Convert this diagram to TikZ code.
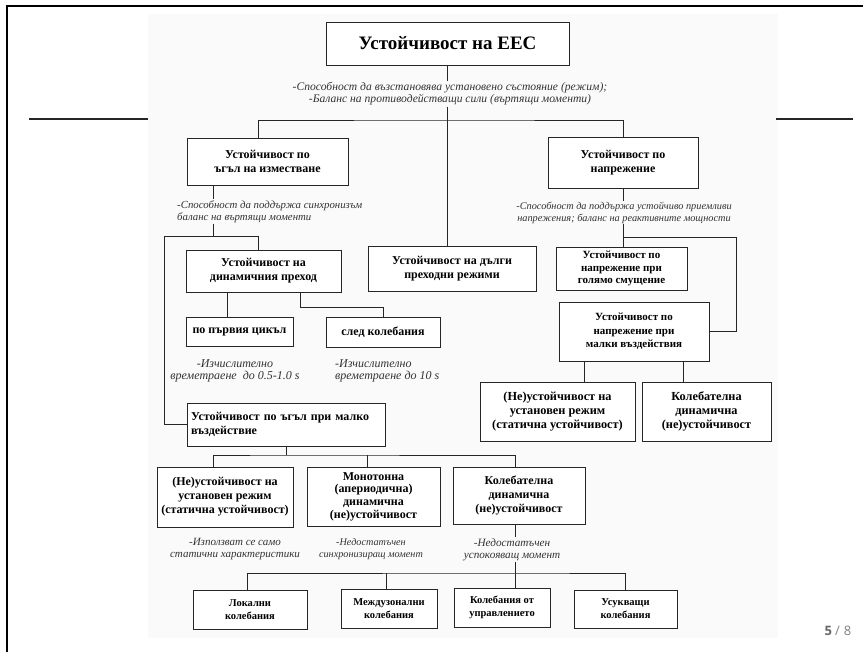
\documentclass[tikz,border=0pt]{standalone}
\usepackage{fontspec}
\setmainfont{Liberation Serif}
\newfontfamily\pagefont{Open Sans}
\begin{document}
\begin{tikzpicture}[x=1pt,y=-1pt,
  box/.style={draw=black!85, line width=0.9pt, fill=white, align=center, inner sep=1pt,
    font=\bfseries\fontsize{12}{14}\selectfont},
  sz/.style 2 args={minimum width=#1, minimum height=#2},
  note/.style={align=center, inner sep=1pt, font=\itshape\fontsize{11}{12}\selectfont, text=black!80},
  nsize/.style={font=\itshape\fontsize{#1}{12}\selectfont},
  conn/.style={draw=black!85, line width=0.8pt},
  rule/.style={line width=1.6pt, draw=black!85}]
\useasboundingbox (0,0) rectangle (863,652);
\fill[black!2] (148,14) rectangle (778,638);
\draw[line width=2pt] (7,652) -- (7,6) -- (863,6);
\coordinate (rl1) at (29,119); \coordinate (rl2) at (148,119);
\coordinate (rr1) at (776,119); \coordinate (rr2) at (853,119);
\draw[rule] (rl1) -- (rl2);
\draw[rule] (rr1) -- (rr2);

% nodes
\node[box, sz={243}{43}, font=\bfseries\fontsize{19}{22}\selectfont] (title) at (447.5,43.5) {Устойчивост на ЕЕС};
\node[note, nsize=11.6] (t0) at (450,94) {-Способност да възстановява установено състояние (режим);\\-Баланс на противодействащи сили (въртящи моменти)};
\node[box, sz={161}{47}] (angle) at (267.5,161.5) {Устойчивост по\\ъгъл на изместване};
\node[box, sz={150}{51}] (volt) at (623,162.5) {Устойчивост по\\напрежение};
\node[note, nsize=10.8, align=left, anchor=west] (t1) at (176,211.5) {-Способност да поддържа синхронизъм\\баланс на въртящи моменти};
\node[note, nsize=10.3] (t2) at (624,212.5) {-Способност да поддържа устойчиво приемливи\\напрежения; баланс на реактивните мощности};
\node[box, sz={155}{42}] (dyn) at (263.5,271) {Устойчивост на\\динамичния преход};
\node[box, sz={168}{45}] (long) at (452,268.5) {Устойчивост на дълги\\преходни режими};
\node[box, sz={131}{43}, font=\bfseries\fontsize{11}{12.5}\selectfont] (big) at (621.5,268.5) {Устойчивост по\\напрежение при\\голямо смущение};
\node[box, sz={150}{59}, font=\bfseries\fontsize{11}{13.5}\selectfont] (small) at (634,331.5) {Устойчивост по\\напрежение при\\малки въздействия};
\node[box, sz={107}{29}] (first) at (239.5,331.5) {по първия цикъл};
\node[box, sz={114}{30}] (after) at (383,332) {след колебания};
\node[note, nsize=12] (t3) at (235,371) {-Изчислително\\времетраене\enspace до 0.5-1.0 s};
\node[note, nsize=12, align=left, anchor=west] (t4) at (334,371) {-Изчислително\\времетраене до 10 s};
\node[box, sz={198}{43}, align=left, text width=190pt, inner xsep=4pt] (sangle) at (286,424.5) {Устойчивост по ъгъл при малко\\въздействие};
\node[box, sz={155}{59}, font=\bfseries\fontsize{12.3}{14}\selectfont] (r1) at (557.5,411.5) {(Не)устойчивост на\\установен режим\\(статична устойчивост)};
\node[box, sz={129}{59}, font=\bfseries\fontsize{12.3}{14}\selectfont] (r2) at (706.5,411.5) {Колебателна\\динамична\\(не)устойчивост};
\node[box, sz={136}{60}] (b1) at (225,497) {(Не)устойчивост на\\установен режим\\(статична устойчивост)};
\node[box, sz={133}{59}, font=\bfseries\fontsize{12}{12.7}\selectfont] (b2) at (373.5,496.5) {Монотонна\\(апериодична)\\динамична\\(не)устойчивост};
\node[box, sz={132}{57}] (b3) at (519,495.5) {Колебателна\\динамична\\(не)устойчивост};
\node[note, nsize=11] (t5) at (235,549.5) {-Използват се само\\статични характеристики};
\node[note, nsize=10.2] (t6) at (371,549.5) {-Недостатъчен\\синхронизиращ момент};
\node[note, nsize=11.2] (t7) at (512,549.5) {-Недостатъчен\\успокояващ момент};
\node[box, sz={114}{39}, font=\bfseries\fontsize{10.5}{13}\selectfont] (o1) at (250,609.5) {Локални\\колебания};
\node[box, sz={96}{39}, font=\bfseries\fontsize{10.5}{13}\selectfont] (o2) at (389,608.5) {Междузонални\\колебания};
\node[box, sz={96}{39}, font=\bfseries\fontsize{10.5}{13}\selectfont] (o3) at (502,607.5) {Колебания от\\управлението};
\node[box, sz={103}{38}, font=\bfseries\fontsize{10.5}{13}\selectfont] (o4) at (625.5,609) {Усукващи\\колебания};
\node[font=\pagefont\fontsize{13}{15}\selectfont, text=black!50, inner sep=0pt] (pg) at (838,631) {\textcolor{black!60}{\textbf{5}}\hspace{3pt}/\hspace{4pt}8};

% junctions
\coordinate (jA) at (447.5,120);
\coordinate (jB) at (213,236);
\coordinate (jL) at (164,236);
\coordinate (jC) at (383,307);
\coordinate (jD) at (286,455);
\coordinate (jE) at (515,573);
\coordinate (jG) at (623,237);
\coordinate (x213) at (213,0);
\coordinate (x227) at (227,0);
\coordinate (x300) at (300,0);
\coordinate (x367) at (367,0);
\coordinate (x386) at (386,0);
\coordinate (x247) at (247,0);
\coordinate (x515) at (515,0);
\coordinate (x584) at (584,0);
\coordinate (x683) at (683,0);
\coordinate (x736) at (736,0);

% connectors
\draw[conn] (title.south) -- (title.south |- t0.north);
\draw[conn] (title.south |- t0.south) -- (title.south |- long.north);
\draw[conn] ([xshift=-9.5pt]angle.north) |- (jA) -| (volt.north);
\draw[conn] (angle.south -| x213) -- (t1.north -| x213);
\draw[conn] (t1.south -| x213) -- (jB);
\draw[conn] (sangle.west) -| (jL) -| ([xshift=-5.5pt]dyn.north);
\draw[conn] (dyn.south -| x227) -- (first.north -| x227);
\draw[conn] (dyn.south -| x300) |- (jC) -- (after.north);
\draw[conn] (volt.south) -- (volt.south |- t2.north);
\draw[conn] (volt.south |- t2.south) -- (volt.south |- big.north);
\draw[conn] (jG) -| (x736 |- small.east) -- (small.east);
\draw[conn] (small.south -| x584) -- (r1.north -| x584);
\draw[conn] (small.south -| x683) -- (r2.north -| x683);
\draw[conn] (sangle.south) -- (jD);
\draw[conn] (b1.north -| x213) |- (jD) -| (b3.north -| x515);
\draw[conn] (b2.north -| x367) -- (jD -| x367);
\draw[conn] (b3.south -| x515) -- (t7.north -| x515);
\draw[conn] (t7.south -| x515) -- (jE);
\draw[conn] (o1.north -| x247) |- (jE) -| (o4.north);
\draw[conn] (o2.north -| x386) -- (jE -| x386);
\draw[conn] (jE) -- (o3.north -| jE);
\end{tikzpicture}
\end{document}
